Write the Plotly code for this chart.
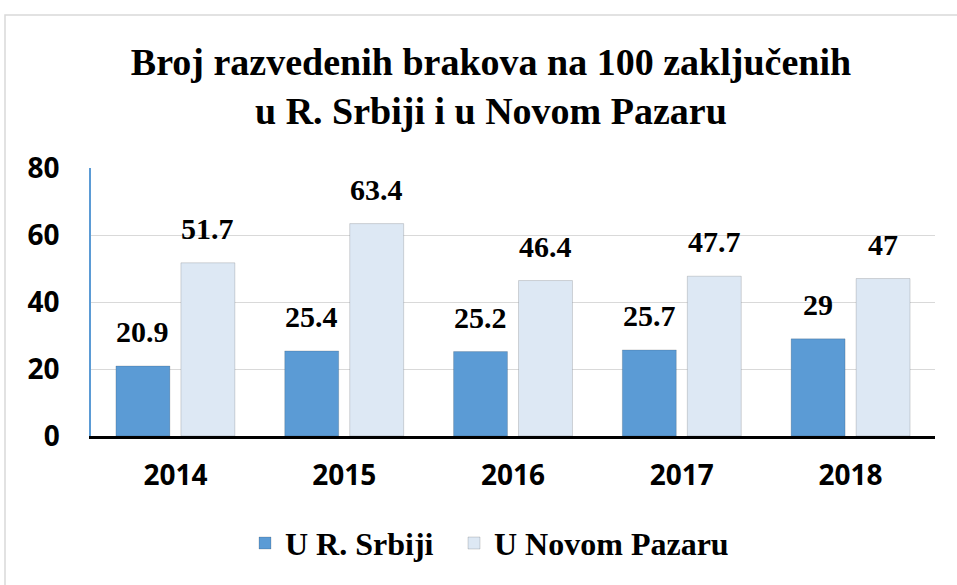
import plotly.graph_objects as go

years = ["2014", "2015", "2016", "2017", "2018"]
srbija = [20.9, 25.4, 25.2, 25.7, 29]
novi_pazar = [51.7, 63.4, 46.4, 47.7, 47]
series_names = ["U R. Srbiji", "U Novom Pazaru"]
title_text = "Broj razvedenih brakova na 100 zaključenih<br>u R. Srbiji i u Novom Pazaru"

serif = "Liberation Serif"
sans = "Open Sans"

fig = go.Figure()
fig.add_trace(go.Bar(
    x=years, y=srbija, name=series_names[0], legend="legend",
    marker=dict(color="#5b9bd5", line=dict(color="rgba(0,0,0,0.15)", width=1)),
))
fig.add_trace(go.Bar(
    x=years, y=novi_pazar, name=series_names[1], legend="legend2",
    marker=dict(color="#dde8f4", line=dict(color="rgba(0,0,0,0.15)", width=1)),
))

# data labels placed above each bar through the axis scales
# (category axis: annotation x given as category index)
for vals, shift in ((srbija, -32.5), (novi_pazar, 32.5)):
    for idx, v in enumerate(vals):
        fig.add_annotation(x=idx, y=v, xref="x", yref="y", text=f"{v:g}",
                           showarrow=False, xshift=shift, yshift=16, yanchor="bottom",
                           font=dict(family=serif, size=30, color="black", weight="bold"))

legend_font = dict(family=serif, size=32, color="black", weight="bold")
fig.update_layout(
    width=957, height=585,
    margin=dict(l=91, r=22, t=168, b=149),
    paper_bgcolor="white", plot_bgcolor="white",
    barmode="group", bargap=0.23, bargroupgap=0.17,
    title=dict(text=title_text, x=0.513, xanchor="center", xref="container",
               y=0.872, yanchor="middle", yref="container",
               font=dict(family=serif, size=38, color="black", weight="bold")),
    showlegend=True,
    legend=dict(orientation="h", x=(245 - 91) / 844, xanchor="left", y=-0.40, yanchor="middle",
                font=legend_font, itemwidth=30),
    legend2=dict(orientation="h", x=(454 - 91) / 844, xanchor="left", y=-0.40, yanchor="middle",
                 font=legend_font, itemwidth=30),
)
fig.update_yaxes(range=[0, 80], dtick=20, showgrid=True, gridcolor="#d9d9d9", gridwidth=1,
                 showline=True, linecolor="#5b9bd5", linewidth=1.5, zeroline=False,
                 ticks="", ticklabelstandoff=24,
                 tickfont=dict(family=sans, size=28, color="black", weight="bold"))
fig.update_xaxes(type="category", range=[-0.5, len(years) - 0.5],
                 showline=True, linecolor="black", linewidth=3, showgrid=False,
                 ticks="", ticklabelstandoff=12,
                 tickfont=dict(family=sans, size=28, color="black", weight="bold"))

fig.add_shape(type="rect", xref="paper", yref="paper",
              x0=(5 - 91) / 844, x1=(975 - 91) / 844,
              y0=(436 - 600) / 268, y1=(436 - 15) / 268,
              line=dict(color="#d9d9d9", width=1.5), fillcolor="rgba(0,0,0,0)", layer="below")

fig.write_html("out.html", config={"displayModeBar": False},
               post_script="document.body.style.margin='0';")
